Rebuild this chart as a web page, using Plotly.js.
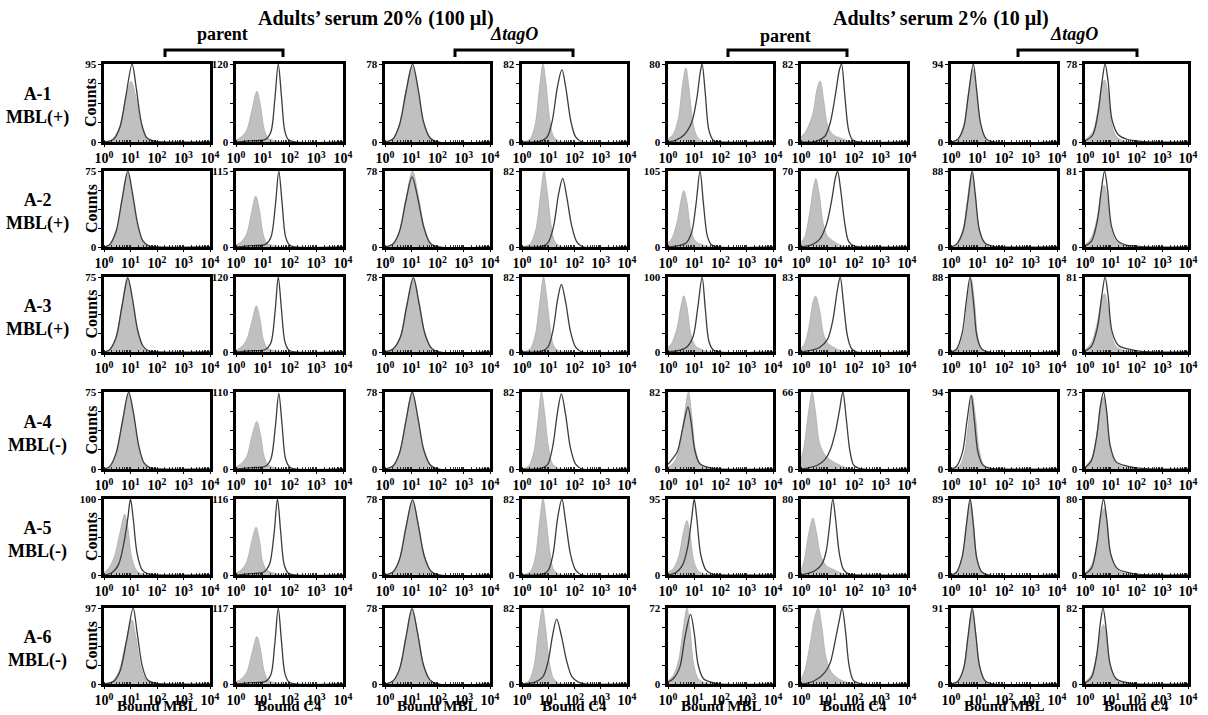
<!DOCTYPE html>
<html>
<head>
<meta charset="utf-8">
<script src="https://cdn.plot.ly/plotly-3.0.1.min.js"></script>
<style>html,body{margin:0;padding:0;background:#fff;}#chart{width:1208px;height:715px;}</style>
</head>
<body>
<div id="chart"></div>
<script>
// ---------------- DATA ----------------
const rowLabels = ['A-1<br>MBL(+)', 'A-2<br>MBL(+)', 'A-3<br>MBL(+)', 'A-4<br>MBL(-)', 'A-5<br>MBL(-)', 'A-6<br>MBL(-)'];
const groupTitles = ['Adults\u2019 serum 20% (100 \u00b5l)', 'Adults\u2019 serum 2% (10 \u00b5l)'];
const strainLabels = ['parent', '\u0394tagO', 'parent', '\u0394tagO'];
const xAxisTitles = ['Bound MBL', 'Bound C4', 'Bound MBL', 'Bound C4', 'Bound MBL', 'Bound C4', 'Bound MBL', 'Bound C4'];
const xTickVals = [1, 10, 100, 1000, 10000];
const xTickText = ['10<sup>0</sup>', '10<sup>1</sup>', '10<sup>2</sup>', '10<sup>3</sup>', '10<sup>4</sup>'];
const yAxisLabel = 'Counts';

// y-axis maximum (counts) per panel, rows A-1..A-6, columns 1..8
const yMax = [
  [95, 120, 78, 82, 80, 82, 94, 78],
  [75, 115, 78, 82, 105, 70, 88, 81],
  [75, 120, 78, 82, 100, 83, 88, 81],
  [75, 110, 78, 82, 82, 66, 94, 73],
  [100, 116, 78, 82, 95, 80, 89, 80],
  [97, 117, 78, 82, 72, 65, 91, 82]
];

// Histogram points: [log10(fluorescence), counts]
// *_fill = grey filled histogram (control), *_line = open histogram
const A1_fill = [
  [[0,0],[0.3,3],[0.55,15],[0.78,45],[1.02,74],[1.2,55],[1.4,20],[1.6,5],[1.9,1],[2.2,0],[4,0]],
  [[0,3],[0.2,8],[0.4,18],[0.6,50],[0.78,78],[0.92,55],[1.05,20],[1.2,6],[1.45,2],[1.8,0],[4,0]],
  [[0,0],[0.3,3],[0.55,18],[0.8,52],[1.03,76],[1.25,52],[1.45,20],[1.7,4],[2,0],[4,0]],
  [[0,0],[0.3,3],[0.5,18],[0.66,55],[0.8,82],[0.92,60],[1.05,25],[1.2,6],[1.4,1],[1.6,0],[4,0]],
  [[0,3],[0.2,8],[0.4,25],[0.55,58],[0.68,76],[0.8,55],[0.95,20],[1.1,6],[1.3,1],[1.6,0],[4,0]],
  [[0,5],[0.2,12],[0.45,30],[0.6,55],[0.72,64],[0.85,45],[1.0,18],[1.2,8],[1.5,4],[1.8,1],[2.1,0],[4,0]],
  [[0,0],[0.25,3],[0.48,20],[0.65,58],[0.82,88],[0.95,62],[1.1,22],[1.3,4],[1.6,0],[4,0]],
  [[0,2],[0.3,10],[0.5,32],[0.65,56],[0.76,62],[0.88,50],[1.02,20],[1.2,6],[1.5,1],[2,0],[4,0]]
];
const A1_line = [
  [[0,0],[0.35,3],[0.6,18],[0.82,55],[1.06,95],[1.22,65],[1.42,22],[1.62,5],[1.9,1],[2.2,0],[4,0]],
  [[0,0],[0.6,2],[1.1,4],[1.3,15],[1.45,65],[1.58,120],[1.7,70],[1.82,18],[1.95,4],[2.2,0],[4,0]],
  [[0,0],[0.3,3],[0.55,17],[0.8,50],[1.05,78],[1.27,52],[1.47,20],[1.72,4],[2,0],[4,0]],
  [[0,0],[0.7,1],[0.95,5],[1.15,22],[1.35,58],[1.52,76],[1.68,55],[1.86,22],[2.05,5],[2.3,0],[4,0]],
  [[0,0],[0.3,2],[0.6,7],[0.9,20],[1.1,45],[1.22,70],[1.3,80],[1.42,50],[1.56,12],[1.75,1],[2,0],[4,0]],
  [[0,0],[0.6,1],[0.9,6],[1.1,20],[1.3,50],[1.45,76],[1.53,82],[1.65,50],[1.8,12],[1.95,2],[2.2,0],[4,0]],
  [[0,0],[0.25,3],[0.48,18],[0.65,55],[0.84,94],[0.97,62],[1.12,22],[1.32,4],[1.6,0],[4,0]],
  [[0,1],[0.3,7],[0.5,28],[0.65,58],[0.78,78],[0.9,60],[1.05,22],[1.3,7],[1.6,3],[2.0,1],[2.4,0],[4,0]]
];
const A2_fill = [
  [[0,0],[0.2,2],[0.45,14],[0.68,45],[0.88,73],[1.05,52],[1.25,22],[1.45,6],[1.7,1],[2,0],[4,0]],
  [[0,3],[0.2,8],[0.4,20],[0.58,52],[0.74,77],[0.88,55],[1.0,22],[1.15,6],[1.4,2],[1.8,0],[4,0]],
  [[0,0],[0.3,3],[0.55,16],[0.8,50],[1.05,78],[1.27,52],[1.5,20],[1.75,4],[2.05,0],[4,0]],
  [[0,0],[0.3,3],[0.52,18],[0.7,55],[0.84,82],[0.96,60],[1.1,25],[1.25,6],[1.45,1],[1.7,0],[4,0]],
  [[0,6],[0.15,12],[0.35,35],[0.5,65],[0.6,78],[0.72,62],[0.88,22],[1.05,8],[1.3,3],[1.6,0],[4,0]],
  [[0,4],[0.15,10],[0.35,35],[0.47,55],[0.56,63],[0.68,50],[0.85,20],[1.0,10],[1.25,5],[1.55,1],[1.9,0],[4,0]],
  [[0,0],[0.2,3],[0.45,20],[0.62,55],[0.78,86],[0.9,62],[1.05,22],[1.25,5],[1.55,1],[1.9,0],[4,0]],
  [[0,2],[0.25,10],[0.48,32],[0.63,58],[0.74,66],[0.86,52],[1.0,20],[1.2,6],[1.5,2],[2,0],[4,0]]
];
const A2_line = [
  [[0,0],[0.2,2],[0.45,15],[0.68,47],[0.9,75],[1.07,54],[1.27,23],[1.47,6],[1.7,1],[2,0],[4,0]],
  [[0,0],[0.6,2],[1.1,4],[1.3,14],[1.47,62],[1.6,115],[1.72,68],[1.85,16],[2.0,3],[2.2,0],[4,0]],
  [[0,0],[0.3,3],[0.55,16],[0.8,48],[1.03,72],[1.25,50],[1.48,20],[1.72,4],[2.05,0],[4,0]],
  [[0,0],[0.8,1],[1.0,5],[1.2,22],[1.4,58],[1.55,74],[1.7,55],[1.9,22],[2.1,5],[2.35,0],[4,0]],
  [[0,0],[0.4,2],[0.7,6],[0.9,20],[1.07,60],[1.22,105],[1.35,60],[1.5,15],[1.65,3],[1.9,0],[4,0]],
  [[0,0],[0.4,2],[0.7,7],[0.95,20],[1.15,42],[1.3,64],[1.38,70],[1.5,52],[1.65,22],[1.8,5],[2.0,1],[2.3,0],[4,0]],
  [[0,0],[0.2,3],[0.45,18],[0.63,52],[0.8,88],[0.92,60],[1.07,20],[1.27,5],[1.55,1],[1.9,0],[4,0]],
  [[0,1],[0.25,6],[0.48,28],[0.63,60],[0.76,81],[0.88,60],[1.03,22],[1.25,7],[1.6,2],[2.0,1],[2.4,0],[4,0]]
];
const A3_fill = [
  [[0,0],[0.2,2],[0.45,15],[0.68,47],[0.88,75],[1.05,54],[1.25,22],[1.45,6],[1.7,1],[2,0],[4,0]],
  [[0,3],[0.2,8],[0.4,20],[0.6,50],[0.76,74],[0.9,52],[1.02,20],[1.18,6],[1.45,2],[1.8,0],[4,0]],
  [[0,0],[0.3,3],[0.58,16],[0.83,50],[1.08,78],[1.3,52],[1.52,20],[1.77,4],[2.05,0],[4,0]],
  [[0,0],[0.3,3],[0.5,18],[0.68,55],[0.82,82],[0.94,60],[1.08,25],[1.22,6],[1.42,1],[1.7,0],[4,0]],
  [[0,6],[0.15,12],[0.35,33],[0.5,62],[0.6,75],[0.72,60],[0.88,22],[1.05,8],[1.3,3],[1.6,0],[4,0]],
  [[0,4],[0.15,10],[0.33,33],[0.45,55],[0.55,62],[0.68,50],[0.85,20],[1.0,10],[1.25,5],[1.55,1],[1.9,0],[4,0]],
  [[0,0],[0.25,3],[0.48,22],[0.63,60],[0.76,86],[0.88,60],[1.0,20],[1.15,4],[1.4,0],[4,0]],
  [[0,2],[0.25,10],[0.48,32],[0.64,56],[0.76,63],[0.88,50],[1.02,20],[1.2,6],[1.5,2],[2,0],[4,0]]
];
const A3_line = [
  [[0,0],[0.2,2],[0.45,14],[0.68,46],[0.9,74],[1.07,54],[1.27,22],[1.47,6],[1.7,1],[2,0],[4,0]],
  [[0,0],[0.6,2],[1.1,4],[1.3,14],[1.46,64],[1.58,120],[1.7,68],[1.83,16],[1.98,3],[2.2,0],[4,0]],
  [[0,0],[0.3,3],[0.58,15],[0.83,48],[1.08,77],[1.3,50],[1.52,19],[1.77,4],[2.05,0],[4,0]],
  [[0,0],[0.75,1],[0.98,5],[1.17,22],[1.36,58],[1.5,74],[1.66,55],[1.85,22],[2.05,5],[2.3,0],[4,0]],
  [[0,0],[0.4,2],[0.7,6],[0.95,20],[1.13,58],[1.3,100],[1.42,58],[1.56,14],[1.72,3],[1.95,0],[4,0]],
  [[0,0],[0.4,2],[0.7,5],[1.0,14],[1.2,35],[1.38,70],[1.48,83],[1.6,55],[1.75,18],[1.9,4],[2.1,0],[4,0]],
  [[0,0],[0.2,3],[0.42,22],[0.58,60],[0.72,88],[0.85,58],[0.98,18],[1.15,4],[1.4,0],[4,0]],
  [[0,1],[0.25,6],[0.48,26],[0.64,58],[0.78,81],[0.9,60],[1.05,22],[1.3,7],[1.7,3],[2.1,1],[2.5,0],[4,0]]
];
const A4_fill = [
  [[0,0],[0.2,2],[0.45,14],[0.7,45],[0.92,74],[1.1,54],[1.3,22],[1.5,6],[1.75,1],[2.05,0],[4,0]],
  [[0,3],[0.2,8],[0.4,18],[0.6,48],[0.78,68],[0.92,48],[1.05,18],[1.2,6],[1.45,2],[1.8,0],[4,0]],
  [[0,0],[0.3,3],[0.55,16],[0.8,50],[1.03,78],[1.25,52],[1.47,20],[1.72,4],[2.0,0],[4,0]],
  [[0,0],[0.25,3],[0.45,18],[0.62,55],[0.74,82],[0.86,60],[1.0,25],[1.15,6],[1.35,1],[1.6,0],[4,0]],
  [[0,2],[0.2,6],[0.4,18],[0.6,52],[0.78,82],[0.9,58],[1.05,20],[1.25,5],[1.55,1],[1.9,0],[4,0]],
  [[0,8],[0.12,20],[0.28,48],[0.42,66],[0.55,48],[0.7,22],[0.9,12],[1.1,8],[1.4,4],[1.7,1],[2.0,0],[4,0]],
  [[0,0],[0.3,3],[0.5,18],[0.66,55],[0.8,90],[0.93,62],[1.07,22],[1.25,4],[1.5,0],[4,0]],
  [[0,2],[0.25,10],[0.45,32],[0.6,58],[0.72,68],[0.84,52],[0.98,20],[1.15,7],[1.5,2],[2,0],[4,0]]
];
const A4_line = [
  [[0,0],[0.2,2],[0.45,15],[0.7,47],[0.93,75],[1.11,55],[1.31,23],[1.51,6],[1.75,1],[2.05,0],[4,0]],
  [[0,0],[0.6,2],[1.1,4],[1.3,14],[1.47,60],[1.6,108],[1.72,64],[1.85,15],[2.0,3],[2.2,0],[4,0]],
  [[0,0],[0.3,3],[0.55,16],[0.8,49],[1.04,78],[1.26,51],[1.48,19],[1.73,4],[2.0,0],[4,0]],
  [[0,0],[0.75,1],[0.98,5],[1.17,24],[1.36,62],[1.5,80],[1.66,58],[1.85,22],[2.05,5],[2.3,0],[4,0]],
  [[0,5],[0.15,10],[0.35,18],[0.55,42],[0.76,66],[0.88,50],[1.02,20],[1.2,6],[1.5,2],[1.9,0],[4,0]],
  [[0,0],[0.3,1],[0.6,3],[0.9,8],[1.1,16],[1.3,32],[1.45,50],[1.58,66],[1.7,45],[1.85,15],[2.0,3],[2.3,0],[4,0]],
  [[0,0],[0.2,3],[0.43,20],[0.6,58],[0.76,90],[0.88,60],[1.02,20],[1.2,5],[1.45,1],[1.8,0],[4,0]],
  [[0,1],[0.25,8],[0.45,30],[0.6,60],[0.72,73],[0.84,55],[0.98,22],[1.2,7],[1.6,3],[2.0,1],[2.5,0],[4,0]]
];
const A5_fill = [
  [[0,3],[0.2,10],[0.4,25],[0.6,55],[0.78,80],[0.9,62],[1.05,22],[1.25,5],[1.5,1],[1.8,0],[4,0]],
  [[0,3],[0.2,8],[0.4,20],[0.58,50],[0.75,73],[0.88,52],[1.0,20],[1.15,8],[1.4,3],[1.8,0],[4,0]],
  [[0,0],[0.3,3],[0.55,16],[0.8,50],[1.05,78],[1.27,52],[1.5,20],[1.75,4],[2.05,0],[4,0]],
  [[0,0],[0.3,3],[0.5,18],[0.66,55],[0.8,82],[0.92,60],[1.06,25],[1.2,6],[1.4,1],[1.65,0],[4,0]],
  [[0,3],[0.2,8],[0.4,22],[0.58,52],[0.72,68],[0.84,50],[0.98,18],[1.15,5],[1.4,1],[1.7,0],[4,0]],
  [[0,5],[0.12,15],[0.3,45],[0.45,60],[0.58,45],[0.75,20],[0.95,10],[1.2,6],[1.5,2],[1.8,0],[4,0]],
  [[0,0],[0.2,3],[0.42,22],[0.58,60],[0.73,88],[0.85,60],[0.98,20],[1.15,4],[1.4,0],[4,0]],
  [[0,2],[0.25,10],[0.45,32],[0.6,58],[0.74,70],[0.86,55],[1.0,22],[1.2,7],[1.5,2],[2,0],[4,0]]
];
const A5_line = [
  [[0,0],[0.3,3],[0.55,14],[0.75,42],[0.9,75],[1.0,100],[1.1,75],[1.25,28],[1.45,6],[1.7,1],[2.0,0],[4,0]],
  [[0,0],[0.6,2],[1.05,5],[1.25,16],[1.42,62],[1.55,116],[1.67,66],[1.8,16],[1.95,3],[2.2,0],[4,0]],
  [[0,0],[0.3,3],[0.55,16],[0.8,49],[1.05,77],[1.27,51],[1.5,19],[1.75,4],[2.05,0],[4,0]],
  [[0,0],[0.8,1],[1.0,5],[1.18,22],[1.36,62],[1.52,82],[1.66,58],[1.85,22],[2.05,5],[2.3,0],[4,0]],
  [[0,0],[0.3,3],[0.55,12],[0.75,35],[0.9,70],[1.0,95],[1.1,70],[1.25,25],[1.45,6],[1.7,1],[2.0,0],[4,0]],
  [[0,0],[0.3,2],[0.55,5],[0.8,12],[0.95,25],[1.07,50],[1.2,80],[1.3,60],[1.45,22],[1.6,6],[1.8,1],[2.1,0],[4,0]],
  [[0,0],[0.2,3],[0.42,21],[0.58,58],[0.72,89],[0.84,60],[0.97,20],[1.15,4],[1.4,0],[4,0]],
  [[0,1],[0.25,7],[0.45,30],[0.6,62],[0.72,80],[0.84,60],[1.0,22],[1.25,7],[1.6,3],[2.0,1],[2.5,0],[4,0]]
];
const A6_fill = [
  [[0,0],[0.3,3],[0.55,15],[0.8,50],[1.05,82],[1.2,60],[1.4,20],[1.6,5],[1.9,1],[2.2,0],[4,0]],
  [[0,3],[0.2,8],[0.4,18],[0.6,48],[0.78,73],[0.92,52],[1.05,20],[1.2,6],[1.45,2],[1.8,0],[4,0]],
  [[0,0],[0.3,3],[0.55,16],[0.8,50],[1.03,78],[1.25,52],[1.47,20],[1.72,4],[2.0,0],[4,0]],
  [[0,0],[0.25,3],[0.45,18],[0.62,55],[0.78,82],[0.9,60],[1.05,22],[1.2,6],[1.4,1],[1.6,0],[4,0]],
  [[0,3],[0.2,8],[0.4,22],[0.58,52],[0.72,72],[0.84,52],[0.98,18],[1.15,5],[1.4,1],[1.7,0],[4,0]],
  [[0,4],[0.15,12],[0.35,35],[0.5,55],[0.65,65],[0.78,50],[0.95,22],[1.15,10],[1.45,4],[1.8,1],[2.1,0],[4,0]],
  [[0,0],[0.25,3],[0.48,20],[0.64,58],[0.8,90],[0.93,62],[1.08,22],[1.28,4],[1.55,0],[4,0]],
  [[0,2],[0.25,10],[0.45,32],[0.6,56],[0.72,64],[0.84,50],[0.98,20],[1.15,6],[1.45,2],[2,0],[4,0]]
];
const A6_line = [
  [[0,0],[0.35,3],[0.6,16],[0.85,55],[1.1,97],[1.25,66],[1.45,22],[1.65,5],[1.95,1],[2.3,0],[4,0]],
  [[0,0],[0.6,2],[1.1,4],[1.3,14],[1.45,62],[1.58,117],[1.7,66],[1.83,16],[1.98,3],[2.2,0],[4,0]],
  [[0,0],[0.3,3],[0.55,15],[0.8,48],[1.03,77],[1.25,51],[1.47,19],[1.72,4],[2.0,0],[4,0]],
  [[0,0],[0.5,2],[0.8,8],[1.0,25],[1.15,50],[1.32,70],[1.5,52],[1.7,25],[1.9,8],[2.15,2],[2.4,0],[4,0]],
  [[0,2],[0.2,5],[0.45,16],[0.65,45],[0.86,66],[1.0,48],[1.15,18],[1.35,5],[1.6,2],[1.9,0],[4,0]],
  [[0,0],[0.3,1],[0.6,4],[0.9,10],[1.1,18],[1.3,38],[1.45,55],[1.55,65],[1.68,45],[1.82,15],[1.98,3],[2.3,0],[4,0]],
  [[0,0],[0.25,3],[0.48,19],[0.64,56],[0.8,91],[0.93,61],[1.08,21],[1.28,4],[1.55,0],[4,0]],
  [[0,1],[0.25,7],[0.45,30],[0.58,62],[0.7,82],[0.82,60],[0.97,22],[1.2,6],[1.55,2],[2,0],[4,0]]
];
const fillRows = [A1_fill, A2_fill, A3_fill, A4_fill, A5_fill, A6_fill];
const lineRows = [A1_line, A2_line, A3_line, A4_line, A5_line, A6_line];

// ---------------- LAYOUT GEOMETRY (pixels) ----------------
const W = 1208, H = 715;
const colPx = [[104,210],[236,343],[385,490],[522,627],[668,773],[801,907],[951,1057],[1085,1188]];
const rowPx = [[64,142],[171,247],[277,352],[392,469],[499,575],[608,684]];
const px = v => v / W;
const py = v => 1 - v / H;

const FONT = 'Liberation Serif, Times New Roman, serif';
const xTickFont = {family: FONT, size: 14, color: '#000', weight: 'bold'};
const yTickFont = {family: FONT, size: 11, color: '#000', weight: 'bold'};
const FILL_COLOR = 'rgb(192,192,192)';
const LINE_COLOR = '#3c3c3c';

const traces = [];
const layout = {
  width: W, height: H,
  margin: {l: 0, r: 0, t: 0, b: 0},
  paper_bgcolor: '#fff', plot_bgcolor: 'rgba(0,0,0,0)',
  showlegend: false,
  annotations: [], shapes: []
};

for (let r = 0; r < 6; r++) {
  for (let c = 0; c < 8; c++) {
    const n = r * 8 + c + 1;
    const xa = n === 1 ? 'x' : 'x' + n;
    const ya = n === 1 ? 'y' : 'y' + n;
    const M = yMax[r][c];
    const f = fillRows[r][c];
    const l = lineRows[r][c];
    traces.push({
      type: 'scatter', mode: 'lines', xaxis: xa, yaxis: ya,
      x: f.map(p => Math.pow(10, p[0])), y: f.map(p => p[1]),
      fill: 'tozeroy', fillcolor: FILL_COLOR,
      line: {color: 'rgb(172,172,172)', width: 0.8, shape: 'spline', smoothing: 0.9},
      hoverinfo: 'skip'
    });
    traces.push({
      type: 'scatter', mode: 'lines', xaxis: xa, yaxis: ya,
      x: l.map(p => Math.pow(10, p[0])), y: l.map(p => p[1]),
      line: {color: LINE_COLOR, width: 1.3, shape: 'spline', smoothing: 0.9},
      hoverinfo: 'skip'
    });
    layout['xaxis' + (n === 1 ? '' : n)] = {
      domain: [px(colPx[c][0]), px(colPx[c][1])], anchor: ya,
      type: 'log', range: [0, 4],
      tickmode: 'array', tickvals: xTickVals, ticktext: xTickText,
      ticks: 'outside', ticklen: 2, tickwidth: 1, tickcolor: '#000',
      tickfont: xTickFont,
      minor: {ticks: 'inside', ticklen: 2, tickwidth: 0.8, tickcolor: '#000', dtick: 'D1', showgrid: false},
      showline: true, mirror: true, linewidth: 2.6, linecolor: '#000',
      showgrid: false, zeroline: false, fixedrange: true
    };
    layout['yaxis' + (n === 1 ? '' : n)] = {
      domain: [py(rowPx[r][1]), py(rowPx[r][0])], anchor: xa,
      range: [0, M],
      tickmode: 'array', tickvals: [0, M], ticktext: ['0', String(M)],
      ticks: 'outside', ticklen: 3, tickwidth: 1, tickcolor: '#000',
      tickfont: yTickFont, ticklabeloverflow: 'allow',
      minor: {tickmode: 'array', tickvals: [M / 4, M / 2, 3 * M / 4], ticks: 'outside', ticklen: 3, tickwidth: 1, tickcolor: '#000', showgrid: false},
      showline: true, mirror: true, linewidth: 2.6, linecolor: '#000',
      showgrid: false, zeroline: false, fixedrange: true
    };
  }
  const yc = (rowPx[r][0] + rowPx[r][1]) / 2;
  layout.annotations.push({
    xref: 'paper', yref: 'paper', x: px(37), y: py(yc + 3), text: rowLabels[r],
    showarrow: false, xanchor: 'center', yanchor: 'middle',
    font: {family: FONT, size: 18, color: '#000', weight: 'bold'}
  });
  layout.annotations.push({
    xref: 'paper', yref: 'paper', x: px(91), y: py(yc), text: yAxisLabel, textangle: -90,
    showarrow: false, xanchor: 'center', yanchor: 'middle',
    font: {family: FONT, size: 16, color: '#000', weight: 'bold'}
  });
}

// bottom axis titles
for (let c = 0; c < 8; c++) {
  layout.annotations.push({
    xref: 'paper', yref: 'paper', x: px((colPx[c][0] + colPx[c][1]) / 2), y: py(706), text: xAxisTitles[c],
    showarrow: false, xanchor: 'center', yanchor: 'middle',
    font: {family: FONT, size: 15, color: '#000', weight: 'bold'}
  });
}

// group titles
const groupX = [376, 941];
groupTitles.forEach((t, i) => layout.annotations.push({
  xref: 'paper', yref: 'paper', x: px(groupX[i]), y: py(19), text: t,
  showarrow: false, xanchor: 'center', yanchor: 'middle',
  font: {family: FONT, size: 20, color: '#000', weight: 'bold'}
}));

// strain labels and brackets
const strainX = [222, 514, 785, 1074];
const bracketPx = [[165, 283], [455, 573], [728, 847], [1018, 1137]];
strainLabels.forEach((t, i) => {
  layout.annotations.push({
    xref: 'paper', yref: 'paper', x: px(strainX[i]), y: py(i === 2 ? 36 : 34),
    text: i % 2 === 1 ? '<i>' + t + '</i>' : t,
    showarrow: false, xanchor: 'center', yanchor: 'middle',
    font: {family: FONT, size: 18, color: '#000', weight: 'bold'}
  });
  const [a, b] = bracketPx[i];
  layout.shapes.push({
    type: 'path', xref: 'paper', yref: 'paper',
    path: `M ${px(a)} ${py(57)} L ${px(a)} ${py(50)} L ${px(b)} ${py(50)} L ${px(b)} ${py(57)}`,
    line: {color: '#000', width: 3}
  });
});

Plotly.newPlot('chart', traces, layout, {staticPlot: true, displayModeBar: false});
</script>
</body>
</html>
